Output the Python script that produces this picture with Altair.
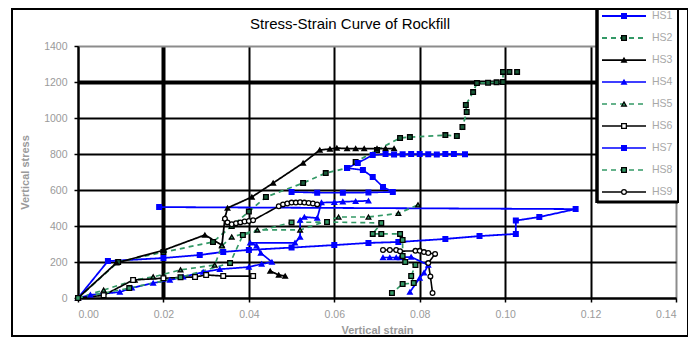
import altair as alt
import pandas as pd

# ---------------- data ----------------
series = ["HS1", "HS2", "HS3", "HS4", "HS5", "HS6", "HS7", "HS8", "HS9"]

hs1_x = [0, 0.007, 0.020, 0.0285, 0.034, 0.040, 0.050, 0.060, 0.068, 0.075, 0.086, 0.094, 0.1025, 0.1025, 0.108, 0.1165, 0.019]
hs1_y = [0, 205, 222, 239, 256, 267, 280, 294, 306, 311, 328, 344, 356, 430, 450, 494, 505]

hs2_x = [0, 0.0094, 0.020, 0.0316, 0.036, 0.040, 0.044, 0.0527, 0.058, 0.063, 0.065, 0.070, 0.0754, 0.0777, 0.086, 0.0887, 0.0900, 0.0910, 0.0908, 0.0925, 0.0934, 0.0960, 0.0980, 0.0995, 0.0995, 0.1010, 0.1028]
hs2_y = [0, 200, 255, 311, 400, 480, 561, 639, 694, 722, 756, 822, 889, 894, 905, 900, 950, 1033, 1072, 1144, 1194, 1196, 1198, 1200, 1256, 1256, 1256]

hs3a_x = [0, 0.009, 0.020, 0.0297, 0.0337, 0.0344, 0.035, 0.0407, 0.0457, 0.0527, 0.0566, 0.0590, 0.0606, 0.0630, 0.065, 0.067, 0.070, 0.072, 0.074]
hs3a_y = [0, 195, 265, 350, 294, 444, 500, 561, 639, 750, 822, 828, 833, 830, 830, 830, 830, 830, 830]
hs3b_x = [0.045, 0.047, 0.0485]
hs3b_y = [150, 128, 122]

hs4a_x = [0, 0.0029, 0.0098, 0.0126, 0.0176, 0.0215, 0.0246, 0.0293, 0.0332, 0.040, 0.043, 0.0454, 0.0428, 0.0418, 0.0403, 0.0508, 0.052, 0.052, 0.053, 0.056, 0.057, 0.060, 0.062, 0.065, 0.068]
hs4a_y = [0, 17, 33, 56, 83, 100, 117, 144, 160, 172, 189, 200, 250, 290, 306, 306, 339, 433, 450, 444, 530, 532, 535, 537, 540]
hs4b_x = [0.0714, 0.073, 0.0745, 0.0754, 0.078, 0.082, 0.081, 0.080, 0.0777]
hs4b_y = [225, 225, 225, 225, 228, 183, 140, 111, 33]

hs5_x = [0, 0.006, 0.0133, 0.0176, 0.024, 0.032, 0.0337, 0.036, 0.042, 0.052, 0.061, 0.068, 0.075, 0.0796]
hs5_y = [0, 44, 100, 117, 156, 183, 290, 339, 378, 378, 450, 450, 470, 517]

hs6_x = [0, 0.006, 0.0129, 0.020, 0.0274, 0.030, 0.034, 0.041]
hs6_y = [0, 15, 100, 110, 117, 128, 122, 122]

hs7_x = [0.050, 0.056, 0.062, 0.068, 0.0737, 0.0714, 0.069, 0.0667, 0.063, 0.0655, 0.069, 0.072, 0.074, 0.076, 0.078, 0.080, 0.082, 0.084, 0.086, 0.088, 0.0906]
hs7_y = [589, 585, 585, 586, 589, 617, 672, 711, 722, 750, 794, 800, 797, 798, 800, 800, 798, 797, 800, 800, 798]

hs8_x = [0, 0.012, 0.024, 0.0356, 0.0386, 0.050, 0.0583, 0.071, 0.069, 0.071, 0.0754, 0.076, 0.076, 0.0766, 0.079, 0.078, 0.0786, 0.076, 0.0735]
hs8_y = [0, 55, 115, 194, 350, 420, 422, 417, 356, 356, 356, 322, 233, 200, 183, 122, 83, 78, 28]

hs9a_x = [0.0344, 0.035, 0.036, 0.037, 0.038, 0.039, 0.040, 0.041, 0.047, 0.048, 0.049, 0.050, 0.051, 0.052, 0.053, 0.054, 0.055, 0.056]
hs9a_y = [440, 420, 410, 415, 420, 425, 428, 432, 510, 520, 525, 530, 530, 532, 530, 528, 525, 520]
hs9b_x = [0.0714, 0.073, 0.0745, 0.0754, 0.079, 0.080, 0.081, 0.082, 0.0836, 0.082, 0.0825, 0.083]
hs9b_y = [267, 267, 267, 260, 262, 262, 255, 250, 245, 194, 120, 28]

parts = {
    "HS1": [(hs1_x, hs1_y)],
    "HS2": [(hs2_x, hs2_y)],
    "HS3": [(hs3a_x, hs3a_y), (hs3b_x, hs3b_y)],
    "HS4": [(hs4a_x, hs4a_y), (hs4b_x, hs4b_y)],
    "HS5": [(hs5_x, hs5_y)],
    "HS6": [(hs6_x, hs6_y)],
    "HS7": [(hs7_x, hs7_y)],
    "HS8": [(hs8_x, hs8_y)],
    "HS9": [(hs9a_x, hs9a_y), (hs9b_x, hs9b_y)],
}

x_ticks = [0, 0.02, 0.04, 0.06, 0.08, 0.10, 0.12, 0.14]
y_ticks = [0, 200, 400, 600, 800, 1000, 1200, 1400]
chart_title = "Stress-Strain Curve of Rockfill"

# ---------------- styles ----------------
BLUE, GREEN, BLACK = "#0000ff", "#339966", "#000000"
line_colors = [BLUE, GREEN, BLACK, BLUE, GREEN, BLACK, BLUE, GREEN, BLACK]
dashes = [[1, 0], [5, 4], [1, 0], [1, 0], [5, 4], [1, 0], [1, 0], [5, 4], [1, 0]]
widths = [1.8, 1.6, 1.1, 2.8, 1.6, 1.1, 1.1, 1.6, 1.1]
shapes = ["square", "square", "triangle-up", "triangle-up", "triangle-up", "square", "square", "square", "circle"]
fills = [BLUE, "#1a5c3a", BLACK, BLUE, GREEN, "#ffffff", BLUE, GREEN, "#ffffff"]
strokes = [BLUE, BLACK, BLACK, BLUE, BLACK, BLACK, BLUE, BLACK, BLACK]
sizes = [22, 22, 30, 50, 34, 28, 30, 45, 28]

rows = []
for name, segs in parts.items():
    for p, (xs, ys) in enumerate(segs):
        for i, (xv, yv) in enumerate(zip(xs, ys)):
            rows.append({"series": name, "part": f"{name}_{p}", "i": i, "strain": xv, "stress": yv})
df = pd.DataFrame(rows)
leg = pd.DataFrame({"series": series, "row": list(range(len(series)))})
one = pd.DataFrame({"k": [0]})

FONT = "Liberation Sans"
W, H = 598, 252
LABEL_GRAY = "#9a9a9a"

color_s = alt.Scale(domain=series, range=line_colors)
dash_s = alt.Scale(domain=series, range=dashes)
width_s = alt.Scale(domain=series, range=widths)
shape_s = alt.Scale(domain=series, range=shapes)
fill_s = alt.Scale(domain=series, range=fills)
stroke_s = alt.Scale(domain=series, range=strokes)
size_s = alt.Scale(domain=series, range=sizes)

x_scale = alt.Scale(domain=[0, 0.14], nice=False, zero=False)
y_scale = alt.Scale(domain=[0, 1400], nice=False)

x_axis = alt.Axis(
    values=x_ticks, format=".2f", labelColor=LABEL_GRAY, labelFont=FONT, labelFontSize=10.5,
    labelPadding=7, tickSize=4, tickColor="black", tickWidth=1.5,
    domainColor="black", domainWidth=2, grid=True,
    gridColor={"condition": {"test": "datum.value > 0.139", "value": "#8c8c8c"}, "value": "black"},
    gridWidth={"condition": {"test": "abs(datum.value - 0.02) < 0.001", "value": 4}, "value": 2},
    title="Vertical strain", titleColor=LABEL_GRAY, titleFont=FONT, titleFontSize=11,
    titleFontWeight="bold", titlePadding=5,
)
y_axis = alt.Axis(
    values=y_ticks, format="d", labelColor=LABEL_GRAY, labelFont=FONT, labelFontSize=10.5,
    labelPadding=7, tickSize=4, tickColor="black", tickWidth=1.5,
    domainColor="black", domainWidth=2, grid=True,
    gridColor={"condition": {"test": "datum.value > 1399", "value": "#8c8c8c"}, "value": "black"},
    gridWidth={"condition": {"test": "abs(datum.value - 1200) < 1", "value": 4}, "value": 2},
    title="Vertical stress", titleColor=LABEL_GRAY, titleFont=FONT, titleFontSize=11,
    titleFontWeight="bold", titlePadding=13,
)

base = alt.Chart(df)
lines = base.mark_line().encode(
    x=alt.X("strain:Q", scale=x_scale, axis=x_axis),
    y=alt.Y("stress:Q", scale=y_scale, axis=y_axis),
    detail="part:N",
    color=alt.Color("series:N", scale=color_s, legend=None),
    strokeDash=alt.StrokeDash("series:N", scale=dash_s, legend=None),
    strokeWidth=alt.StrokeWidth("series:N", scale=width_s, legend=None),
    order="i:Q",
)
points = base.mark_point(opacity=1, fillOpacity=1, strokeWidth=1.3).encode(
    x=alt.X("strain:Q", scale=x_scale, axis=x_axis),
    y=alt.Y("stress:Q", scale=y_scale, axis=None),
    shape=alt.Shape("series:N", scale=shape_s, legend=None),
    fill=alt.Fill("series:N", scale=fill_s, legend=None),
    stroke=alt.Stroke("series:N", scale=stroke_s, legend=None),
    size=alt.Size("series:N", scale=size_s, legend=None),
)

# ---------------- title and legend box (Excel style) ----------------
title_txt = alt.Chart(one).mark_text(
    align="center", baseline="middle", font=FONT, fontSize=15, color="black"
).encode(x=alt.value(272), y=alt.value(-22), text=alt.value(chart_title))

leg_y = alt.Y("row:Q", scale=alt.Scale(domain=[0, 8], range=[-30, 146]), axis=None)
leg_box = alt.Chart(one).mark_rect(fill="white", stroke="black", strokeWidth=2).encode(
    x=alt.value(519), x2=alt.value(600), y=alt.value(-37), y2=alt.value(156)
)
leg_left = alt.Chart(one).mark_rule(color="black", strokeWidth=3.5).encode(
    x=alt.value(519), y=alt.value(-37), y2=alt.value(157)
)
leg_bottom = alt.Chart(one).mark_rule(color="black", strokeWidth=3).encode(
    x=alt.value(519), x2=alt.value(600), y=alt.value(156)
)
leg_lines = alt.Chart(leg).mark_rule().encode(
    x=alt.value(524), x2=alt.value(568), y=leg_y,
    color=alt.Color("series:N", scale=color_s, legend=None),
    strokeDash=alt.StrokeDash("series:N", scale=dash_s, legend=None),
    strokeWidth=alt.StrokeWidth("series:N", scale=width_s, legend=None),
)
leg_pts = alt.Chart(leg).mark_point(opacity=1, fillOpacity=1, strokeWidth=1.3).encode(
    x=alt.value(546), y=leg_y,
    shape=alt.Shape("series:N", scale=shape_s, legend=None),
    fill=alt.Fill("series:N", scale=fill_s, legend=None),
    stroke=alt.Stroke("series:N", scale=stroke_s, legend=None),
    size=alt.Size("series:N", scale=size_s, legend=None),
)
leg_txt = alt.Chart(leg).mark_text(align="left", baseline="middle", font=FONT, fontSize=10.5, color="#a8a8a8").encode(
    x=alt.value(574), y=leg_y, text="series:N"
)
outer = alt.Chart(one).mark_rect(fillOpacity=0, stroke="black", strokeWidth=2).encode(
    x=alt.value(-66), x2=alt.value(610), y=alt.value(-37), y2=alt.value(290)
)

chart = alt.layer(
    lines, points, title_txt, leg_box, leg_left, leg_bottom, leg_lines, leg_pts, leg_txt, outer
).resolve_scale(y="independent").properties(
    width=W, height=H,
    padding={"left": 70, "top": 38, "right": 12, "bottom": 40},
    autosize=alt.AutoSizeParams(type="none"),
).configure_view(stroke=None).configure(background="white")

chart.save("out.html", embed_options={"renderer": "svg", "actions": False})
